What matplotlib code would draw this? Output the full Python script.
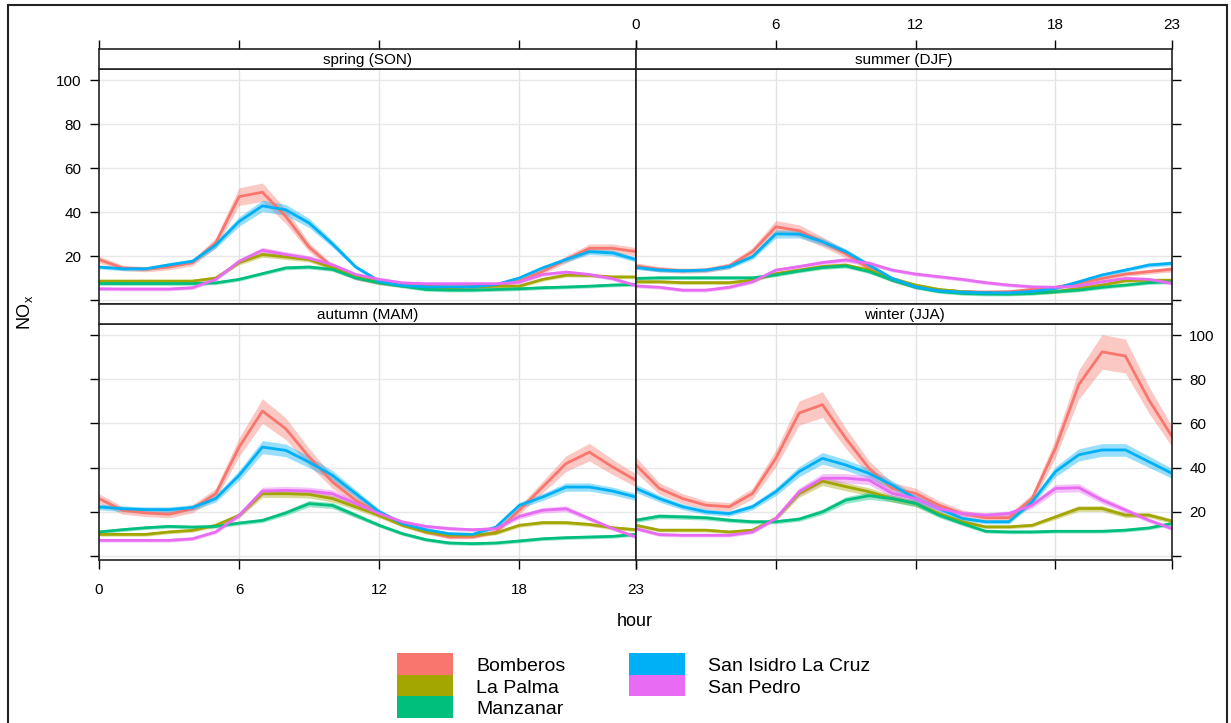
import numpy as np
import matplotlib.pyplot as plt
from matplotlib.patches import Rectangle

plt.rcParams['font.family'] = ['Liberation Sans', 'DejaVu Sans']

W, H = 1231, 723

hours = np.arange(24)
sites = ["Bomberos", "La Palma", "Manzanar", "San Isidro La Cruz", "San Pedro"]
site_colors = ["#F8766D", "#A3A500", "#00BF7D", "#00B0F6", "#E76BF3"]
seasons = ["spring (SON)", "summer (DJF)", "autumn (MAM)", "winter (JJA)"]
hour_ticks = [0, 6, 12, 18, 23]
nox_ticks = [0, 20, 40, 60, 80, 100]
nox_labels = ["", "20", "40", "60", "80", "100"]

# spring (SON)
son_bomberos = [18.4, 14.6, 14, 15, 17, 26, 47, 49, 38, 24, 15, 10, 7.8, 6.6, 6.3, 6, 6, 6.6, 8.6, 13, 18.4, 23.5, 23.5, 22]
son_lapalma = [8.6, 8.6, 8.6, 8.6, 8.6, 10, 17, 20.7, 19.6, 18.4, 14.6, 10.9, 8.6, 6.6, 6, 5.6, 6, 6.3, 6.3, 9.4, 11.3, 11.2, 10.5, 10.5]
son_manzanar = [7.5, 7.5, 7.5, 7.5, 7.5, 7.8, 9.4, 12, 14.6, 15, 13.9, 10, 7.8, 6.3, 4.8, 4.5, 4.5, 4.8, 5.1, 5.6, 5.9, 6.3, 6.8, 7.1]
son_sanisidro = [15, 14.2, 14.2, 16, 17.6, 25, 35.7, 42.8, 41, 35, 25.5, 15, 8.6, 6.6, 6, 6, 6, 7, 10, 14.6, 18.4, 22, 21.4, 18.4]
son_sanpedro = [5.1, 5, 5, 5, 5.6, 9.4, 17.6, 22.6, 20.7, 19, 16, 11.6, 9.4, 7.8, 7.4, 7.4, 7.4, 7.4, 8.1, 11.6, 12.7, 11.6, 9.7, 6.6]

# summer (DJF)
djf_bomberos = [15.5, 14, 13.3, 13.6, 15.5, 22, 33.3, 31.5, 26.5, 21, 14.4, 9, 6, 4.5, 3.8, 3.6, 3.8, 4.8, 5.8, 7.6, 9.8, 11.8, 12.9, 14]
djf_lapalma = [8.3, 8.3, 7.9, 7.9, 7.9, 9, 12, 13.6, 15.2, 15.9, 13.6, 9.8, 6.8, 4.8, 3.8, 3.3, 3, 3.3, 3.8, 5.3, 6.8, 8.8, 9, 9]
djf_manzanar = [9.8, 10.1, 10.1, 10.1, 10.1, 10.1, 11.4, 13.2, 14.8, 15.5, 12.9, 9, 5.8, 3.9, 3, 2.7, 2.7, 3, 3.8, 4.5, 5.8, 6.8, 7.9, 8.3]
djf_sanisidro = [14.8, 13.6, 13.3, 13.6, 15.2, 19.7, 30, 30, 26.5, 22, 15.9, 9.8, 6, 4.2, 3.6, 3.3, 3.3, 3.9, 5.3, 8.3, 11.4, 13.6, 15.9, 16.7]
djf_sanpedro = [6.4, 5.8, 4.5, 4.5, 5.8, 8.3, 13.6, 15.2, 17, 18.2, 16.7, 13.6, 11.8, 10.6, 9.4, 7.9, 6.8, 6, 5.8, 6.4, 8.3, 9.8, 9.4, 7.6]

# autumn (MAM)
mam_bomberos = [26, 20.7, 19.5, 18.9, 21.4, 28.2, 49.3, 65.6, 57.6, 44.8, 33.5, 25.2, 19.2, 14.6, 10.9, 8.6, 8.6, 10.9, 20.7, 31.2, 41.8, 47, 40.3, 34.2]
mam_lapalma = [9.8, 9.8, 9.8, 10.9, 11.6, 13.9, 18.4, 28.2, 28.2, 27.9, 26, 22.2, 18.4, 13.9, 10.9, 9.4, 9.4, 10.4, 13.9, 15.1, 15.1, 14.3, 12.8, 11.9]
mam_manzanar = [10.9, 11.9, 12.8, 13.4, 13.1, 13.4, 14.9, 16.1, 19.5, 23.7, 22.9, 18.4, 13.9, 10.1, 7.4, 5.9, 5.6, 5.9, 6.8, 7.8, 8.3, 8.6, 8.9, 9.8]
mam_sanisidro = [22.2, 21.4, 21, 21, 21.9, 26, 36.5, 49.3, 47.8, 42.5, 36.5, 28.2, 20, 14.6, 11.9, 10.1, 9.8, 13.1, 22.9, 26.7, 31.2, 31.2, 29.4, 26.7]
mam_sanpedro = [7.1, 7.1, 7.1, 7.1, 7.8, 10.9, 18.4, 29.4, 29.7, 29.4, 28.2, 23.7, 19.2, 15.4, 13.4, 12.4, 11.9, 12.4, 17.9, 20.7, 21.4, 16.9, 12.4, 8.6]

# winter (JJA)
jja_bomberos = [41.2, 30.6, 26, 23, 22.3, 28.3, 44.2, 64.7, 68.5, 53.3, 39.7, 30.6, 28.3, 23, 19.2, 17.3, 17.3, 26, 48.8, 77.6, 92.4, 90.5, 70.8, 54.1]
jja_lapalma = [13.9, 11.7, 11.7, 11.7, 10.9, 11.7, 17, 28.3, 33.9, 31.4, 29.1, 26, 23.8, 19.2, 15.5, 13.2, 13.2, 13.9, 17.7, 21.5, 21.5, 18.5, 18.5, 15.8]
jja_manzanar = [16.2, 18, 17.7, 17.3, 16.2, 15.5, 15.5, 16.7, 20, 25.3, 27.3, 26, 23.8, 18.5, 14.7, 11.2, 10.9, 10.9, 11.2, 11.2, 11.2, 11.7, 12.7, 14.7]
jja_sanisidro = [30.6, 26, 22.3, 20, 19.2, 22.3, 29.1, 38.2, 44.2, 41.2, 37.4, 32.1, 26, 21.5, 17, 15.5, 15.5, 24.5, 38.2, 45.8, 48, 48, 42.7, 37.4]
jja_sanpedro = [12.4, 9.7, 9.4, 9.4, 9.4, 10.9, 17, 29.1, 35.2, 35.2, 34.4, 28.3, 26, 21.5, 19.2, 18.5, 19.2, 23, 30.6, 30.9, 25.3, 20.8, 16.2, 12.4]

season_data = [
    [son_bomberos, son_lapalma, son_manzanar, son_sanisidro, son_sanpedro],
    [djf_bomberos, djf_lapalma, djf_manzanar, djf_sanisidro, djf_sanpedro],
    [mam_bomberos, mam_lapalma, mam_manzanar, mam_sanisidro, mam_sanpedro],
    [jja_bomberos, jja_lapalma, jja_manzanar, jja_sanisidro, jja_sanpedro],
]
# relative half width of the 95% confidence band, per site
ci_frac = [0.085, 0.06, 0.06, 0.06, 0.06]


def box(left, top, right, bottom):
    return [left / W, 1 - bottom / H, (right - left) / W, (bottom - top) / H]


fig = plt.figure(figsize=(W / 100, H / 100), dpi=100)

cols = [(99, 636), (636, 1172)]
rows = [(49, 69, 304), (304, 324, 560)]
ylim = (-1.8, 105)
tick_len = 6.5

for i, season in enumerate(seasons):
    r, c = divmod(i, 2)
    x0, x1 = cols[c]
    s0, p0, p1 = rows[r]
    ax = fig.add_axes(box(x0, p0, x1, p1))
    st = fig.add_axes(box(x0, s0, x1, p0))

    for k, site in enumerate(sites):
        y = np.array(season_data[i][k])
        ci = np.maximum(y * ci_frac[k], 0.8)
        ax.fill_between(hours, y - ci, y + ci, color=site_colors[k], alpha=0.4, lw=0)
        ax.plot(hours, y, color=site_colors[k], lw=2)

    ax.set_xlim(0, 23)
    ax.set_ylim(*ylim)
    ax.set_xticks(hour_ticks)
    ax.set_yticks(nox_ticks)
    for g in [6, 12, 18]:
        ax.axvline(g, color="#e3e3e3", lw=1, zorder=0)
    for g in nox_ticks:
        ax.axhline(g, color="#e8e8e8", lw=1, zorder=0)

    ax.tick_params(direction="out", length=tick_len, width=1, color="black",
                   labelsize=11)
    ax.tick_params(axis="x", pad=10)
    ax.tick_params(axis="y", pad=6)
    ax.tick_params(axis="both", which="both", top=False, labeltop=False)
    # x ticks only on bottom row
    ax.tick_params(axis="x", bottom=(r == 1), labelbottom=(r == 1 and c == 0))
    ax.set_xticklabels([str(h) for h in hour_ticks])
    # y ticks on outer side
    if c == 0:
        ax.tick_params(axis="y", left=True, right=False, labelleft=(r == 0), labelright=False)
    else:
        ax.tick_params(axis="y", left=False, right=True, labelleft=False, labelright=(r == 1))
    ax.set_yticklabels(nox_labels)
    for sp in ax.spines.values():
        sp.set_linewidth(1.2)
        sp.set_color("#222222")

    st.set_xlim(0, 23)
    st.set_ylim(0, 1)
    st.set_yticks([])
    st.text(11.5, 0.45, season, ha="center", va="center", fontsize=11)
    if r == 0:
        st.set_xticks(hour_ticks)
        st.set_xticklabels([str(h) for h in hour_ticks])
        st.tick_params(axis="x", direction="out", length=tick_len, width=1,
                       bottom=False, labelbottom=False, top=True,
                       labeltop=(c == 1), labelsize=11, pad=6)
    else:
        st.set_xticks([])
    for sp in st.spines.values():
        sp.set_linewidth(1.2)
        sp.set_color("#222222")

fig.text(635 / W, 1 - 622 / H, "hour", ha="center", va="center", fontsize=13)
fig.text(25 / W, 1 - 312 / H, "NO$_\\mathregular{x}$", ha="center", va="center",
         rotation=90, fontsize=13)

# legend
leg_cols = [(397, 476, [0, 1, 2]), (629, 708, [3, 4])]
row_top = 653
row_h = 21.7
for rx, tx, idx in leg_cols:
    for j, k in enumerate(idx):
        yt = row_top + j * row_h
        fig.patches.append(Rectangle((rx / W, 1 - (yt + row_h) / H), 56 / W, row_h / H,
                                     transform=fig.transFigure, color=site_colors[k], lw=0))
        fig.text(tx / W, 1 - (yt + row_h / 2 + 2.5) / H, sites[k], ha="left", va="center",
                 fontsize=14)

# outer frame of the picture
fig.patches.append(Rectangle((8 / W, -0.02), (1227 - 8) / W, 1.02 - 5 / H,
                             transform=fig.transFigure, fill=False, lw=1.5,
                             edgecolor="#222222"))

fig.savefig("out.png", dpi=100)
